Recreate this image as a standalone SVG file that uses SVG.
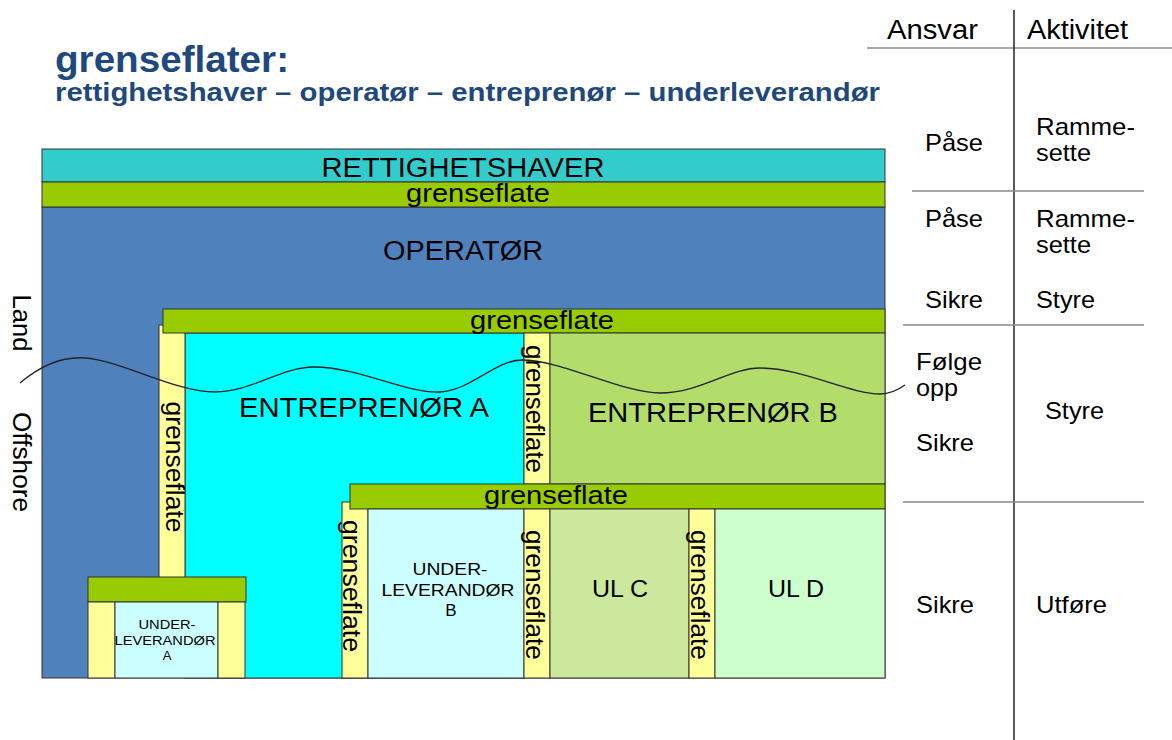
<svg xmlns="http://www.w3.org/2000/svg" width="1172" height="740" viewBox="0 0 1172 740">
<style>
text{font-family:"Liberation Sans",Arial,sans-serif;fill:#000}
.box{stroke:#333;stroke-width:1}
.gf{fill:#99CC00}
.yl{fill:#FFFF99}
.lbl{font-size:26px}
.big{font-size:27px}
.gft{font-size:25px}
.mid{text-anchor:middle}
.tab{font-size:24px}
.hdr{font-size:27px}
.title{fill:#1F497D;font-weight:bold}
.tl{stroke:#888;stroke-width:1.5}
</style>
<rect width="1172" height="740" fill="#fff"/>
<g id="title">
<text class="title" x="55" y="72" font-size="36" textLength="234" lengthAdjust="spacingAndGlyphs">grenseflater:</text>
<text class="title" x="55" y="101" font-size="25" textLength="825" lengthAdjust="spacingAndGlyphs">rettighetshaver – operatør – entreprenør – underleverandør</text>
</g>
<g id="operator">
<rect class="box" x="42" y="207" width="843" height="471" fill="#4F81BD" stroke="#555"/>
<text class="big mid" x="463" y="260" textLength="160" lengthAdjust="spacingAndGlyphs">OPERATØR</text>
</g>
<g id="rettighetshaver">
<rect class="box" x="42" y="149" width="843" height="33" fill="#33CCCC"/>
<text class="big mid" x="463" y="177" textLength="283" lengthAdjust="spacingAndGlyphs">RETTIGHETSHAVER</text>
</g>
<g id="grenseflate-1">
<rect class="box gf" x="42" y="182" width="843" height="25"/>
<text class="gft mid" x="478" y="202" textLength="144" lengthAdjust="spacingAndGlyphs">grenseflate</text>
</g>
<g id="entreprenor-a">
<rect class="box" x="185" y="333" width="339" height="345" fill="#00FFFF"/>
<text class="big mid" x="364" y="417" textLength="250" lengthAdjust="spacingAndGlyphs">ENTREPRENØR A</text>
</g>
<g id="grenseflate-left">
<rect class="box yl" x="159" y="325" width="26" height="253"/>
<text class="lbl mid" transform="translate(166,467) rotate(90)" textLength="131" lengthAdjust="spacingAndGlyphs">grenseflate</text>
</g>
<g id="grenseflate-2">
<rect class="box gf" x="163" y="309" width="722" height="24"/>
<text class="gft mid" x="542" y="329" textLength="144" lengthAdjust="spacingAndGlyphs">grenseflate</text>
</g>
<g id="grenseflate-ab">
<rect class="box yl" x="524" y="333" width="26" height="151"/>
<text class="lbl mid" transform="translate(526,409) rotate(90)" textLength="128" lengthAdjust="spacingAndGlyphs">grenseflate</text>
</g>
<g id="entreprenor-b">
<rect class="box" x="550" y="333" width="335" height="151" fill="#B2DD6A"/>
<text class="big mid" x="713" y="422" textLength="250" lengthAdjust="spacingAndGlyphs">ENTREPRENØR B</text>
</g>
<g id="grenseflate-ulb-left">
<rect class="box yl" x="342" y="502" width="26" height="176"/>
<text class="lbl mid" transform="translate(343,586) rotate(90)" textLength="132" lengthAdjust="spacingAndGlyphs">grenseflate</text>
</g>
<g id="grenseflate-3">
<rect class="box gf" x="350" y="484" width="535" height="25"/>
<text class="gft mid" x="556" y="504" textLength="144" lengthAdjust="spacingAndGlyphs">grenseflate</text>
</g>
<g id="underleverandor-b">
<rect class="box" x="368" y="509" width="156" height="169" fill="#CCFFFF"/>
<text class="mid" font-size="17" x="450" y="575" textLength="75" lengthAdjust="spacingAndGlyphs">UNDER-</text>
<text class="mid" font-size="17" x="448" y="596" textLength="133" lengthAdjust="spacingAndGlyphs">LEVERANDØR</text>
<text class="mid" font-size="17" x="451" y="616">B</text>
</g>
<g id="grenseflate-bc">
<rect class="box yl" x="524" y="509" width="26" height="169"/>
<text class="lbl mid" transform="translate(526,595) rotate(90)" textLength="130" lengthAdjust="spacingAndGlyphs">grenseflate</text>
</g>
<g id="ul-c">
<rect class="box" x="550" y="509" width="139" height="169" fill="#CCE89D"/>
<text class="mid" font-size="24" x="620" y="597" textLength="56" lengthAdjust="spacingAndGlyphs">UL C</text>
</g>
<g id="grenseflate-cd">
<rect class="box yl" x="689" y="509" width="26" height="169"/>
<text class="lbl mid" transform="translate(691,595) rotate(90)" textLength="130" lengthAdjust="spacingAndGlyphs">grenseflate</text>
</g>
<g id="ul-d">
<rect class="box" x="715" y="509" width="170" height="169" fill="#CCFFCC"/>
<text class="mid" font-size="24" x="796" y="597" textLength="56" lengthAdjust="spacingAndGlyphs">UL D</text>
</g>
<g id="underleverandor-a">
<rect class="box gf" x="88" y="577" width="158" height="25"/>
<rect class="box yl" x="88" y="602" width="27" height="76"/>
<rect class="box" x="115" y="602" width="103" height="76" fill="#CCFFFF"/>
<rect class="box yl" x="218" y="602" width="27" height="76"/>
<text class="mid" font-size="13" x="167" y="629" textLength="57" lengthAdjust="spacingAndGlyphs">UNDER-</text>
<text class="mid" font-size="13" x="165" y="645" textLength="101" lengthAdjust="spacingAndGlyphs">LEVERANDØR</text>
<text class="mid" font-size="13" x="167" y="660">A</text>
</g>
<g id="coastline">
<path d="M20,383 C40,366 62,356 86,358 C125,362 175,392 215,392 C252,392 280,367 314,367 C358,367 408,394 440,392 C472,390 495,360 522,360 C562,360 622,393 660,393 C700,393 730,368 760,368 C802,368 850,394 880,394 C890,394 898,390 905,385" fill="none" stroke="#222" stroke-width="1.3"/>
</g>
<g id="side-labels">
<text class="lbl mid" transform="translate(13,323) rotate(90)" textLength="57" lengthAdjust="spacingAndGlyphs">Land</text>
<text class="lbl mid" transform="translate(13,462) rotate(90)" textLength="100" lengthAdjust="spacingAndGlyphs">Offshore</text>
</g>
<g id="table">
<line x1="867" y1="48" x2="1172" y2="48" class="tl"/>
<line x1="1014" y1="10" x2="1014" y2="740" stroke="#222" stroke-width="1.5"/>
<line x1="912" y1="191" x2="1144" y2="191" class="tl"/>
<line x1="903" y1="325" x2="1144" y2="325" class="tl"/>
<line x1="903" y1="502" x2="1144" y2="502" class="tl"/>
<text class="hdr" x="887" y="39" textLength="91" lengthAdjust="spacingAndGlyphs">Ansvar</text>
<text class="hdr" x="1027" y="39" textLength="101" lengthAdjust="spacingAndGlyphs">Aktivitet</text>
<text class="tab" x="925" y="151" textLength="58" lengthAdjust="spacingAndGlyphs">Påse</text>
<text class="tab" x="1036" y="135" textLength="99" lengthAdjust="spacingAndGlyphs">Ramme-</text>
<text class="tab" x="1036" y="161" textLength="55" lengthAdjust="spacingAndGlyphs">sette</text>
<text class="tab" x="925" y="227" textLength="58" lengthAdjust="spacingAndGlyphs">Påse</text>
<text class="tab" x="1036" y="227" textLength="99" lengthAdjust="spacingAndGlyphs">Ramme-</text>
<text class="tab" x="1036" y="253" textLength="55" lengthAdjust="spacingAndGlyphs">sette</text>
<text class="tab" x="925" y="308" textLength="58" lengthAdjust="spacingAndGlyphs">Sikre</text>
<text class="tab" x="1036" y="308" textLength="59" lengthAdjust="spacingAndGlyphs">Styre</text>
<text class="tab" x="916" y="370" textLength="66" lengthAdjust="spacingAndGlyphs">Følge</text>
<text class="tab" x="916" y="396" textLength="42" lengthAdjust="spacingAndGlyphs">opp</text>
<text class="tab" x="916" y="451" textLength="58" lengthAdjust="spacingAndGlyphs">Sikre</text>
<text class="tab" x="1045" y="419" textLength="59" lengthAdjust="spacingAndGlyphs">Styre</text>
<text class="tab" x="916" y="613" textLength="58" lengthAdjust="spacingAndGlyphs">Sikre</text>
<text class="tab" x="1036" y="613" textLength="71" lengthAdjust="spacingAndGlyphs">Utføre</text>
</g>
</svg>
